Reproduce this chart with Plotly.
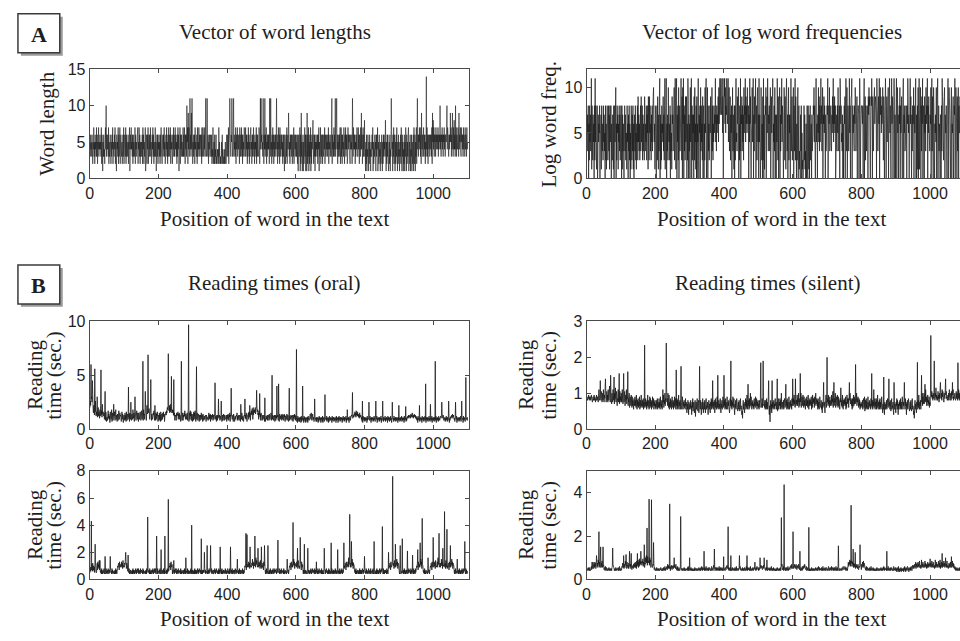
import numpy as np
import plotly.graph_objects as go

W, H = 960, 641

# ---------------------------------------------------------------- data
# One character per word of the text. Word lengths and log frequencies are
# written as hex digits; reading times as base-36 digits (units given below).

WORD_LENGTHS = [
    "5364536425 4735264537 3625473546 4537264153 6342574a36 5463725346 4253647254 3647253164 5372634725 6435246372",
    "4653726354 3625471364 7453626354 3726453467 2547362534 5362746253 4713652647 2563647352 3647362534 7351463625",
    "4635263743 2563647352 3647352637 5364726453 2647363574 6352637461 3572646353 4736375264 63a5729473 5b46394b62",
    "5364627453 3627354736 4563627347 5364736b53 4b63625463 3653624372 3526243623 2434273523 2325362432 3242532363",
    "4637256b64 365b6347b3 6453726457 3645627536 4736263547 6357364625 3746253674 5263647352 6453726364 347625b4b5",
    "6453b6264b 3647253646 462b63b452 6374625364 635b462537 4627356463 5263641652 4637256496 3526463652 6437256463",
    "5364261563 4716293514 6152473616 4192637152 6371526468 4263615364 5362647153 4726356264 3647256364 5364726453",
    "4637b26453 7364b357b4 6253646372 4736264537 5264736462 3746563264 5462b63746 4625364763 3746265374 9462573648",
    "3415261436 4152634153 3647152436 4516364713 5263415236 4152636453 8415263641 3526143b64 5163726415 2637415263",
    "4153627416 3514261537 4162536714 5261436152 3617426153 726b463657 4637295463 573646253e 4736256463 5646372958",
    "4736563746 564736465a 4636574636 574636657a 4765364659 5736495374 8463a47365 4763946574 3756463746 5374663745",
]

LOG_FREQ = [
    "6375806284 736b185274 6082b48316 8027465805 5718436284 7350826158 6248371845 8063275180 3847a06285 7164837248",
    "5081736205 8372451846 0738260518 5273816047 3825164829 4736258394 5827364295 3648275819 4295836274 8379a54618",
    "7306829517 39b0716285 6493728b15 8b06372a54 6280735196 7358a25b61 9b07482a05 8357b6290a 6b08372945 9062b80736",
    "0a46b08275 7092a46180 9064b20758 0a38462907 8062a59b03 7a08362485 9706a38264 8576b47385 7694a68b79 b87ab5906b",
    "9b6a587b96 7b48a36927 5806a37418 0827b45396 7a06283b07 6938472a58 7b49685a76 8074b69305 6a48b07396 8b06829a47",
    "0b47304a62 6092b07148 7a0695b837 6837a04958 9b06483a07 6074b82906 8a07396b48 7305a82961 9b83706a27 5708b36924",
    "7a0836b294 0627a05813 2073805120 1382713060 2810831706 8256073458 7a48305b46 6075a49384 7b6835a076 9586073468",
    "7b0586a357 8437596b48 6958027438 5a73680b96 8453706068 6908b73a05 8637b58069 9b06857438 6a83579068 8706b80578",
    "8768078b07 9287368709 7a8930698b 8097379a68 9870b86379 6b08a79586 7a6297058b 8079468a06 9b58307b69 7068b90705",
    "8b06a57058 6a08579306 9b07583468 7086b95705 8b69407386 6a08558b07 0281a05b16 7a08396b05 8609573a68 7b08596437",
    "6a07b3950a 8306574a06 9b05836507 7083b96428 9a07558306 6b08a97306 8a06579048 7b05a86093 6a08559706 9b07a58b06",
]

# oral reading, first reader: tenths of a second
ORAL_1 = [
    "kqmhsupgwj fmkdjgqecg dhbfkcgeai cmfdhbnegd cf9ia8ge7b b8dhae9c6g c9ai7bf8ad cga8ei9bd7 ec8dha9fcd b7ag9ec6bd",
    "c8f9d7ga8e d9hbe7fc9g b8ec9idaf7 e9gb8dhc9f a7fd9cge8b hc9fa8ide9 gekd8fmeg9 hfjd9eicf8 ec9bfdhc8a d8f9ecgb7d",
    "c8f9d7gb8e d9fcgbe7cd egdhfkimgj hmfkgnhjfg ifhd9cf8dc d8fcedg9ec f9db7ced8f c8dbfchd9e d9cf8eid7f f9hcg8ed7c",
    "e8gcf9hd7e d9fc8aec7d c8dbf9ad7e b8ac9bdc7d c9ab8cf9da e7dc9dbe8b d9ce8d9c7d c8da9cbd8c b9ce7ad8be a8db9acd7c",
    "d9ec8dbf7d c8db9cd7ec b7ac9bdcf8 c9bd8cdb7c d9fc8ca7bd c8ad9fc7bd df9gbeh8fd hejf9kdhfi gkehjfmgid f9hdgbe8fd",
    "c8bd9cdb7c a7bc9bd8cd b8ea9bcf8d c9da8cbd7c d8ca9bdc8d b7ed9cbd8e c9da8ebd7c b9ae8bda7e d8ca9dbc8d b7ad9ebd8c",
    "9b7a6c9a7b 7a9b6c7a9b 8a6c9b7a6b 9a7b6c9a8b ced9fc8bea 9b7a6c9a7b 7a9b6a7c9b 8a6b9a7c6a 9b7a6b9a8c 7a9b6a7c9a",
    "8b9a6c8a9b 7a8b9a6c8b 9a6b8c9a7b 8a9b6a8c9a 7b8a9c6a8b 9a8b6a9c8a bdcfeacdbe dgcfbhdecg cebdafcbdc 9b7a6c9a8b",
    "7a8b9a6c8a 9b7a8c9a6b 8a9b7a8c9a 7b8a9c6a8b 9a7b8a9c6a 8b9a7b8a9c 7a8b9a6c8b 9a7b8c9a6a 8b9a7c8a9b 7a8b9a6b8c",
    "9a7b8a9c7a 8b9a6c8a9b 7a8bacbdac bdcaebdcfb cadbecbdac 9b8a6c9a8b 7a9b8a6c9a 8b7a9c8a6b 9a8b7a9c8a 7b9a8c6a9b",
    "8a7b9a8c6a 9b8a7c9a8b bcadbecadb 8a9b7a8c9a 7b8a9c6a8b acbdaecbda 9a7b8a9c6a 8b9a7b8a9c 7a8b9a6c8b 9a7b8c9a8b",
]
ORAL_1_PEAKS = [
    (4, 6.0), (8, 4.5), (15, 5.6), (22, 3.0), (33, 5.5), (45, 3.5), (70, 2.3), (113, 3.9),
    (120, 2.5), (132, 3.0), (155, 6.3), (162, 3.5), (170, 6.9), (178, 4.6), (190, 2.2),
    (229, 7.0), (238, 4.9), (245, 4.6), (267, 6.3), (288, 9.7), (311, 5.8), (365, 4.3),
    (375, 2.8), (383, 2.6), (412, 3.8), (440, 2.3), (452, 2.8), (466, 2.2), (486, 3.6),
    (495, 3.3), (510, 2.9), (531, 5.0), (545, 4.0), (550, 4.2), (581, 3.8), (602, 7.4),
    (620, 4.0), (655, 2.8), (685, 3.2), (750, 1.8), (765, 3.4), (794, 2.6), (813, 2.5),
    (833, 2.6), (853, 2.6), (881, 2.5), (900, 2.2), (920, 2.1), (960, 2.2), (978, 4.2),
    (992, 2.3), (1006, 6.3), (1025, 2.5), (1045, 2.6), (1065, 2.5), (1083, 2.6), (1095, 4.8),
]

# oral reading, second reader: tenths of a second
ORAL_2 = [
    "5968a7b6c8 7a6957c965 8c7d9b8e7a 6574846475 5846574856 4758647586 7564857465 5647485746 8a9cb7da9b b9dac8eb9a",
    "9cbfad8cba 6475846574 5647485746 4758647586 5846574856 7564857465 5647485746 6574846475 4758647586 5846574856",
    "6475846574 7564857465 5647485746 8a9cb7da9b 4758647586 5846574856 6574846475 5647485746 7564857465 6475846574",
    "5647485746 4758647586 6574846475 7564857465 5846574856 6475846574 4758647586 5647485746 6574846475 7564857465",
    "5846574856 6475846574 4758647586 5647485746 7564857465 8a9cb7da9b b9dac8eb9a 9cbfad8cba ad9gbeca9c b9dac8eb9a",
    "8a9cb7da9b 6475846574 5647485746 4758647586 7564857465 5846574856 6574846475 5647485746 8a9cb7da9b 9cbfad8cba",
    "b9dac8eb9a 8a9cb7da9b 6475846574 5647485746 4758647586 7564857465 5846574856 6574846475 4758647586 5647485746",
    "6475846574 7564857465 5846574856 4758647586 8a9cb7da9b ad9gbeca9c 9cbfad8cba 6574846475 5647485746 4758647586",
    "7564857465 5846574856 6475846574 5647485746 4758647586 6574846475 7564857465 8a9cb7da9b b9dac8eb9a 9cbfad8cba",
    "6475846574 5647485746 4758647586 7564857465 5846574856 8a9cb7da9b 9cbfad8cba 6574846475 5647485746 8a9cb7da9b",
    "b9dac8eb9a ad9gbeca9c 9cbfad8cba b9dac8eb9a 8a9cb7da9b 9cbfad8cba 6475846574 5647485746 4758647586 7564857465",
]
ORAL_2_PEAKS = [
    (5, 4.3), (16, 2.6), (30, 1.4), (45, 1.7), (60, 1.7), (105, 2.0), (112, 1.8), (169, 4.6),
    (195, 3.2), (208, 2.2), (219, 3.2), (229, 5.9), (245, 1.4), (280, 1.6), (297, 4.0),
    (325, 3.0), (334, 2.0), (342, 2.5), (352, 2.5), (380, 2.4), (410, 2.4), (430, 1.5),
    (455, 3.4), (458, 3.3), (467, 2.4), (481, 3.2), (490, 2.3), (500, 2.4), (509, 2.5),
    (519, 2.5), (548, 2.9), (575, 1.5), (592, 4.2), (605, 2.3), (613, 3.1), (625, 2.6),
    (635, 2.3), (660, 1.3), (683, 2.3), (703, 2.7), (722, 2.2), (740, 2.7), (757, 4.8),
    (762, 2.8), (800, 1.7), (828, 2.8), (852, 3.9), (870, 2.0), (882, 7.6), (890, 2.6),
    (904, 2.5), (910, 3.0), (925, 2.1), (940, 1.8), (955, 2.2), (962, 2.7), (968, 4.5),
    (985, 1.6), (1000, 3.1), (1017, 3.4), (1028, 2.3), (1033, 5.0), (1040, 3.7),
    (1050, 2.5), (1070, 1.5), (1092, 2.8),
]

# silent reading, first reader: twentieths of a second
SILENT_1 = [
    "hhgihjhgih ighjhgfhig hjgihfhgjh gihfjmhgki hgljfhkgmi fjhngkfhlg jfmhgkoifh lgekhfmjgi ekhngfljdh gmfkhelgif",
    "kfhmgelhfj ldfjgmeihf dhfkceigdj fcidgebhfd idgcjebgdh cfdibegcjd ecgdhbfcid dhcfbgdjce gbeichdfbg ciedhbfdgc",
    "ebgdchbfec hcfbidecgb dmfjcgekdh gcnfhdkecj bfdhcgbeid cgbfdicehb fdhbgcejbf dgbhcfbdie bfdgcebhdf c9ebgd8fcb",
    "ecgbd8fcha dfb9eg7cfb dhcaeg9dcf bgd8cfbhe9 dfbgc9ehbd cfa8dgbec9 fdhbgc8ebf dg9bhcfbdi cfbdgcebhd 9ecgbdifca",
    "dgbhcfbdie bfdgc9bhdf cgbfdicehb 8ecgbdhfca dfbgcaehbd c8a6dgbec9 fdhbgcjebf dgbhcfkdie bfdgcebhdf ciedhbfdgc",
    "ebgdchbfec hcfbidecgb dgbhcfbdie b8d4cgbe9d cfbdgcebhd dfbgcaehbd fdhbgckebf ecgbdhfcia dgbhcfbdie bfdgcebhdf",
    "fhdjegcifd gejdhfkchf dhfkceigdj fcidgebhfd idgcjebgdh egdibfcjeh fhcidgkefh dgbhcfbdie ecgbd9fcha dfb9egjcfb",
    "fhdjegcifd gejdhflchf dhfkceigdj fcidgebhfd idgcjebgdh egdibfcjeh fhcidgkefh dgbhcfjdie hejfgkdhfi fchdgbecfd",
    "ecgbdhfcia dgbhcfbdie bfdgcebhdf cgbfdmcehb fdhbgcjebf dgbhcfbdie c9ebgd8fcb ecgbdhfcha dfbgcaehbd cfa8dgbec9",
    "fdhbgc8ebf dgbhcfbdie bfdgcebhdf 8ecgbdhfca dfbgcaehbd c8a6dgbec9 fdhbgcjebf dgbhcfkdie gkehjfmgid hfjdgeicfd",
    "kgmilhjgki hmjgkinhjg iglhjfkhmg jhkgmiljhf kihmgjlhig hjgkimhgjk glihkjmgih jkhgilhkjg ihmjgkhlig khjgimhkgj",
]
SILENT_1_PEAKS = [
    (40, 1.35), (55, 1.4), (70, 1.5), (80, 1.45), (95, 1.55), (108, 1.55), (120, 1.6),
    (169, 2.34), (232, 2.4), (261, 1.65), (275, 1.75), (329, 1.75), (367, 1.35), (382, 1.5),
    (400, 1.5), (420, 1.9), (470, 1.25), (507, 1.85), (514, 1.9), (530, 1.35), (540, 1.35),
    (555, 1.4), (580, 1.25), (600, 1.4), (608, 1.4), (622, 1.55), (690, 1.3), (700, 2.0),
    (720, 1.3), (740, 1.15), (765, 1.3), (783, 1.8), (830, 1.55), (865, 1.45), (880, 1.4),
    (895, 1.3), (925, 1.3), (963, 1.86), (975, 1.5), (985, 1.25), (1002, 2.61), (1012, 1.9),
    (1030, 1.3), (1045, 1.4), (1065, 1.3), (1081, 1.85),
]

# silent reading, second reader: twentieths of a second
SILENT_2 = [
    "99a8b9a8ba 89ac9gbacb aebgcfadbh cfbiemcgbj dbfchbeacd 9ba8c9ab8a 98a9b8a98a 9a8bc9edba 8a98b9a89a 9b8a9c8a98",
    "a9cbfdbgae cbhdieagcb dafcbgaecb a9cbdaecfb cgbeahcfdi bgcjdhekfg dhfjcgeibf ekgmfjdlgh fjdkgibecf cbedaf9ba8",
    "9a8b9a89a8 a98a9ba89a 8a9b8a9c8a 9bac9ebdac a9b8cadb9c bdacebdcae a9b8c9a8ba 89a8b9a8a9 8a9b8a98a9 9a8b9c8a98",
    "8a9b8a98a8 98a8b9a89a 8a98a9b8a9 a8b9ca8b9a 9a8b9a8c9a 8a9b8a9ba8 9a8cb9a8bd a9c8ba9b8a 9b8a9c8a9b 8a9b8a98a9",
    "9a8ba9cbda ac9b8a9b8a 98a9b8a9a8 9b8a9c8a9a 8a9b8ac9a8 9a8b9a8a9b 8a98c9a8b9 a9b8a9c8a9 8a9b8a9bac 9a8b9cba9b",
    "8a9cbeadbc a9cbdaecb9 a8b9ca8b9a 9a8b9a8c9a 8a9b8a98a8 98a8b9a89a 8a9b8a9ce9 a9c8ba9b8a 9b8a9c8a9b a9cbdaecba",
    "bdacebdcae a9cbdaecb9 9a8b9a8c9a cadbecb9ac 8a9b8a98a8 98a8b9a89a 8a98a9b8a9 a8b9ca8b9a 9a8b9a8c9a 8a9b8a9ba8",
    "9a8cb9a8b9 a9c8ba9b8a 9b8a9c8a9b 8a9b8a98a9 9a8ba9cb9a ac9b8a9b8a dgcfeidhcg fhcgedbfce bdacebdcae a9cbdaecb9",
    "ebgdchbfec a9b8ca9b8a 9a8b9a8c9a 8a9b8a98a8 98a8b9a89a 8a98a9b8a9 a8b9ca8b9a 9a8b9a8c9a 8a9b8a9ba8 9a8cb9a8b9",
    "8a7b9a7c8a 79a8b7a98a 8a7b9c8a7b 9a8cb9a7b9 a8b9ca8bda bdacebdcae cfbdgcebhd bdacfbecgb cebdhcfbea dbgcebfdch",
    "cfbdhcebgd bdacfbecgb cebdhcfbia dbgcebfdch cfbdgcebhd bdacfbecgb cebdhcfbea ac9b8a9b8a 98a9b8a9a8 9b8a9c8a9a",
]
SILENT_2_PEAKS = [
    (19, 0.8), (29, 1.1), (36, 2.2), (41, 1.5), (48, 1.5), (76, 1.45), (108, 1.1), (115, 1.15),
    (125, 1.3), (130, 1.2), (148, 1.2), (158, 1.3), (168, 1.6), (176, 2.37), (182, 3.7),
    (189, 3.67), (195, 1.7), (242, 3.48), (255, 1.0), (274, 2.9), (300, 1.0), (342, 1.3),
    (372, 1.4), (399, 1.05), (412, 2.43), (420, 1.1), (445, 1.1), (467, 1.1), (490, 0.8),
    (505, 1.0), (517, 1.0), (525, 0.9), (567, 2.85), (575, 4.37), (601, 2.2), (621, 1.3),
    (647, 2.4), (733, 1.55), (770, 3.42), (776, 1.4), (782, 1.25), (796, 1.6), (874, 1.3),
    (958, 0.8), (975, 0.9), (1000, 0.95), (1015, 0.9), (1035, 1.2), (1045, 1.0), (1062, 1.05),
]

X_TICKS = [0, 200, 400, 600, 800, 1000]


def decode(rows, unit, peaks=()):
    chars = "".join(rows).replace(" ", "")
    vals = np.array([int(c, 36) for c in chars], dtype=float) * unit
    for pos, v in peaks:
        if pos - 1 < len(vals):
            vals[pos - 1] = v
    return vals


series = {
    1: decode(WORD_LENGTHS, 1.0),
    2: decode(LOG_FREQ, 1.0),
    3: decode(ORAL_1, 0.1, ORAL_1_PEAKS),
    4: decode(SILENT_1, 0.05, SILENT_1_PEAKS),
    5: decode(ORAL_2, 0.1, ORAL_2_PEAKS),
    6: decode(SILENT_2, 0.05, SILENT_2_PEAKS),
}

# ---------------------------------------------------------------- layout
def px(x):
    return x / W


def py(y):
    return 1 - y / H


LEFT = (86, 466.5)
RIGHT = (585, 960)
ROWS = [(63, 175), (322, 432.5), (475.5, 587)]
SCALE = 0.345  # pixels per word position

panels = {
    1: dict(col=LEFT, row=ROWS[0], yr=[0, 15], yt=[0, 5, 10, 15], lw=0.6),
    2: dict(col=RIGHT, row=ROWS[0], yr=[0, 12], yt=[0, 5, 10], lw=0.7),
    3: dict(col=LEFT, row=ROWS[1], yr=[0, 10], yt=[0, 5, 10], lw=0.8),
    4: dict(col=RIGHT, row=ROWS[1], yr=[0, 3], yt=[0, 1, 2, 3], lw=0.8),
    5: dict(col=LEFT, row=ROWS[2], yr=[0, 8], yt=[0, 2, 4, 6, 8], lw=0.8),
    6: dict(col=RIGHT, row=ROWS[2], yr=[0, 5], yt=[0, 2, 4], lw=0.8),
}

SANS = "Liberation Sans, Arial, Helvetica, sans-serif"
SERIF = "Liberation Serif, Times New Roman, serif"
INK = "#1e1e1e"
FRAME = "#4a4a4a"

fig = go.Figure()
layout = dict(
    width=W, height=H, margin=dict(l=0, r=0, t=0, b=0),
    paper_bgcolor="white", plot_bgcolor="white", showlegend=False,
)

for i, p in panels.items():
    y = series[i]
    x = np.arange(1, len(y) + 1)
    xa = "x" if i == 1 else f"x{i}"
    ya = "y" if i == 1 else f"y{i}"
    fig.add_trace(go.Scatter(
        x=x, y=y, mode="lines", xaxis=xa, yaxis=ya,
        line=dict(color="#1a1a1a", width=p["lw"], simplify=False), hoverinfo="skip",
    ))
    c0, c1 = p["col"]
    r0, r1 = p["row"]
    xmax = (c1 - c0) / SCALE
    is_left = p["col"] is LEFT
    layout["xaxis" if i == 1 else f"xaxis{i}"] = dict(
        domain=[px(c0), px(c1)], range=[0, xmax], anchor=ya,
        tickvals=X_TICKS, ticks="inside", ticklen=4, tickcolor=FRAME,
        showline=True, linecolor=FRAME, linewidth=1, mirror="ticks",
        showgrid=False, zeroline=False,
        tickfont=dict(family=SANS, size=16, color=INK),
    )
    layout["yaxis" if i == 1 else f"yaxis{i}"] = dict(
        domain=[py(r1), py(r0)], range=p["yr"], anchor=xa,
        tickvals=p["yt"], ticks="inside", ticklen=4, tickcolor=FRAME,
        showline=True, linecolor=FRAME, linewidth=1,
        mirror="ticks" if is_left else False,
        showgrid=False, zeroline=False,
        tickfont=dict(family=SANS, size=16, color=INK),
    )

fig.update_layout(**layout)

annotations = []


def text(s, x, y, size=21, angle=0, bold=False):
    annotations.append(dict(
        text=f"<b>{s}</b>" if bold else s, x=px(x), y=py(y),
        xref="paper", yref="paper", xanchor="center", yanchor="middle",
        showarrow=False, textangle=angle,
        font=dict(family=SERIF, size=size, color=INK),
    ))


# panel titles
text("Vector of word lengths", 272, 25)
text("Vector of log word frequencies", 771, 25)
text("Reading times (oral)", 272, 282)
text("Reading times (silent)", 767, 282)

# x-axis titles
for yy in (217, 628):
    text("Position of word in the text", 272, yy)
    text("Position of word in the text", 771, yy)

# y-axis titles
text("Word length", 43, 119, angle=-90)
text("Log word freq.", 547, 119, angle=-90)
for cy in (377, 531):
    text("Reading", 31, cy, angle=-90)
    text("time (sec.)", 50, cy, angle=-90)
    text("Reading", 524, cy, angle=-90)
    text("time (sec.)", 547, cy, angle=-90)

# panel letters in shadowed boxes
shapes = []
for letter, (bx0, by0, bx1, by1) in (("A", (14, 6, 56, 46)), ("B", (14, 264, 56, 304))):
    shapes.append(dict(type="rect", xref="paper", yref="paper",
                       x0=px(bx0 + 3), x1=px(bx1 + 3), y0=py(by1 + 3), y1=py(by0 + 3),
                       fillcolor="#9a9a9a", line=dict(width=0), layer="above"))
    shapes.append(dict(type="rect", xref="paper", yref="paper",
                       x0=px(bx0), x1=px(bx1), y0=py(by1), y1=py(by0),
                       fillcolor="white", line=dict(color="#3a3a3a", width=1.5), layer="above"))
    text(letter, (bx0 + bx1) / 2, (by0 + by1) / 2 + 1, size=22, bold=True)

fig.update_layout(annotations=annotations, shapes=shapes)
fig.write_html("out.html")
